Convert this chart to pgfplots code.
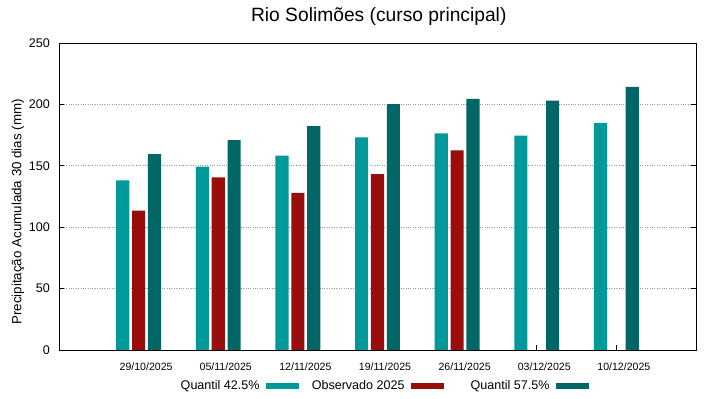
\documentclass[border=0pt]{standalone}
\usepackage{pgfplots}
\pgfplotsset{compat=1.18}
\usepackage{fontspec}
\setmainfont{Liberation Sans}
\definecolor{qlo}{RGB}{0,153,153}
\definecolor{obs}{RGB}{153,13,13}
\definecolor{qhi}{RGB}{0,102,102}
\begin{document}
\begin{tikzpicture}
\path[use as bounding box] (-59bp,-49bp) rectangle (660bp,350bp);
\begin{axis}[
  scale only axis,
  width=637bp, height=307bp,
  xmin=-1, xmax=7, ymin=0, ymax=250,
  xtick={0,1,2,3,4,5,6},
  xticklabels={29/10/2025,05/11/2025,12/11/2025,19/11/2025,26/11/2025,03/12/2025,10/12/2025},
  ytick={0,50,100,150,200,250},
  tick align=inside,
  xtick pos=lower,
  ytick pos=both,
  major tick length=5bp,
  tick style={black, line width=0.6bp},
  axis line style={black, line width=0.8bp},
  ymajorgrids,
  grid style={gray!80, dotted, line width=0.6bp},
  /pgf/number format/assume math mode=true,
  xticklabel style={font=\fontsize{10.6}{12}\selectfont, anchor=center, yshift=-17bp, xshift=7.5bp},
  yticklabel style={font=\fontsize{12.6}{14}\selectfont, anchor=east, inner sep=0pt, xshift=-9bp},
  ylabel={Precipitação Acumulada 30 dias (mm)},
  ylabel style={font=\fontsize{13.4}{15}\selectfont, at={(axis description cs:-0.0644,0.45)}, anchor=center},
  title={Rio Solimões (curso principal)},
  title style={font=\fontsize{19.3}{22}\selectfont, at={(axis description cs:0.502,1)}, anchor=center, yshift=20bp},
  legend plot pos=right,
  legend columns=3,
  legend style={draw=none, fill=none, font=\fontsize{12.6}{14}\selectfont,
    at={(axis description cs:0.497,-0.117)}, anchor=center,
    /tikz/every even column/.append style={column sep=9bp},
    /tikz/every odd column/.append style={column sep=4bp}},
]
\addplot[ybar, fill=qlo, draw=none, bar width=0.165, bar shift=-0.2,
  legend image code/.code={\fill[qlo] (0bp,-3bp) rectangle (33bp,3bp);}]
  coordinates {(0,138.2) (1,149.3) (2,158.2) (3,173.2) (4,176.4) (5,174.5) (6,184.9)};
\addlegendentry{\makebox[95bp][r]{Quantil 42.5\%}}
\addplot[ybar, fill=obs, draw=none, bar width=0.165, bar shift=0,
  legend image code/.code={\fill[obs] (0bp,-3bp) rectangle (33bp,3bp);}]
  coordinates {(0,113.4) (1,140.6) (2,127.9) (3,143.3) (4,162.6)};
\addlegendentry{\makebox[95bp][r]{Observado 2025}}
\addplot[ybar, fill=qhi, draw=none, bar width=0.165, bar shift=0.2,
  legend image code/.code={\fill[qhi] (0bp,-3bp) rectangle (33bp,3bp);}]
  coordinates {(0,159.6) (1,171.0) (2,182.4) (3,200.3) (4,204.4) (5,203.0) (6,214.2)};
\addlegendentry{\makebox[95bp][r]{Quantil 57.5\%}}
\end{axis}
\end{tikzpicture}
\end{document}
